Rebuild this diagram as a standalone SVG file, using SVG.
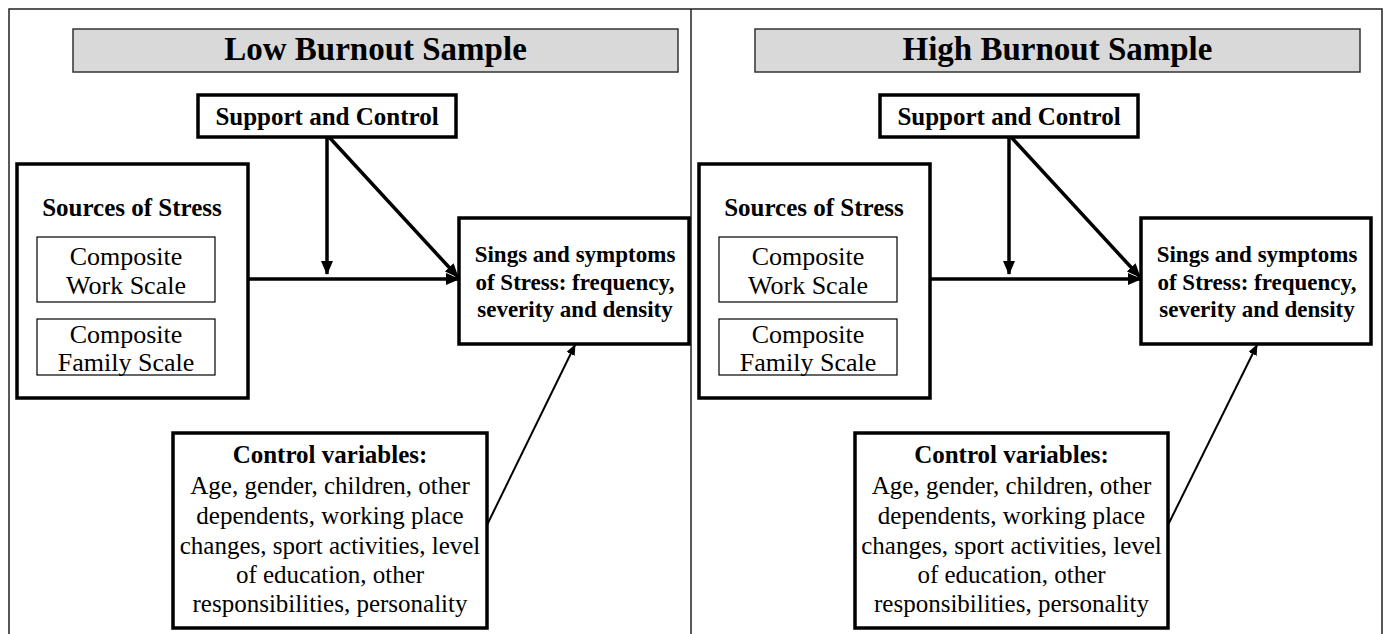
<svg xmlns="http://www.w3.org/2000/svg" width="1391" height="634" viewBox="0 0 1391 634">
<defs>
<style>
.frame{fill:none;stroke:#222;stroke-width:1.5}
.title-box{fill:#d9d9d9;stroke:#333;stroke-width:1.5}
.box{fill:#fff;stroke:#000;stroke-width:3.5}
.inner{fill:#fff;stroke:#000;stroke-width:1.2}
.conn{fill:none;stroke:#000;stroke-width:3.5}
.conn-thin{fill:none;stroke:#000;stroke-width:2}
text{font-family:"Liberation Serif","Times New Roman",serif;fill:#000;text-anchor:middle}
.t-title{font-size:33px;font-weight:bold}
.t-b{font-size:25px;font-weight:bold}
.t-s{font-size:23px;font-weight:bold}
.t-r{font-size:25px}
.t-c{font-size:26px}
</style>
<marker id="ah" markerUnits="userSpaceOnUse" markerWidth="14" markerHeight="12" refX="13" refY="6" orient="auto">
<path d="M0,0 L14,6 L0,12 z" fill="#000"/>
</marker>
<marker id="ah-thin" markerUnits="userSpaceOnUse" markerWidth="11" markerHeight="9" refX="10" refY="4.5" orient="auto">
<path d="M0,0 L11,4.5 L0,9 z" fill="#000"/>
</marker>
</defs>
<rect width="1391" height="634" fill="#fff"/>
<g id="frame">
<path class="frame" d="M9,640 L9,9 L1382,9 L1382,640 M691,9 L691,640"/>
</g>

<!-- Low burnout panel -->
<g id="low-title"><rect class="title-box" x="73" y="29" width="605" height="43"/><text class="t-title" x="375.5" y="60">Low Burnout Sample</text></g>
<g id="low-support"><rect class="box" x="198" y="95" width="258" height="42"/><text class="t-b" x="327" y="125">Support and Control</text></g>
<g id="low-sources"><rect class="box" x="17" y="164" width="231" height="234"/><text class="t-b" x="132" y="216">Sources of Stress</text></g>
<g id="low-work"><rect class="inner" x="37" y="237" width="178" height="65"/><text class="t-c" x="126" y="265">Composite</text><text class="t-c" x="126" y="294">Work Scale</text></g>
<g id="low-family"><rect class="inner" x="37" y="319" width="178" height="56"/><text class="t-c" x="126" y="343">Composite</text><text class="t-c" x="126" y="371">Family Scale</text></g>
<g id="low-signs"><rect class="box" x="459" y="218" width="230" height="126"/><text class="t-s" x="575" y="262">Sings and symptoms</text><text class="t-s" x="575" y="290">of Stress: frequency,</text><text class="t-s" x="575" y="317">severity and density</text></g>
<g id="low-control"><rect class="box" x="173" y="433" width="314" height="195"/><text class="t-b" x="330" y="463">Control variables:</text><text class="t-r" x="330" y="493.5">Age, gender, children, other</text><text class="t-r" x="330" y="523.5">dependents, working place</text><text class="t-r" x="330" y="553.5">changes, sport activities, level</text><text class="t-r" x="330" y="583">of education, other</text><text class="t-r" x="330" y="612">responsibilities, personality</text></g>

<!-- High burnout panel -->
<g id="high-title"><rect class="title-box" x="755" y="29" width="605" height="43"/><text class="t-title" x="1057.5" y="60">High Burnout Sample</text></g>
<g id="high-support"><rect class="box" x="880" y="95" width="258" height="42"/><text class="t-b" x="1009" y="125">Support and Control</text></g>
<g id="high-sources"><rect class="box" x="699" y="164" width="231" height="234"/><text class="t-b" x="814" y="216">Sources of Stress</text></g>
<g id="high-work"><rect class="inner" x="719" y="237" width="178" height="65"/><text class="t-c" x="808" y="265">Composite</text><text class="t-c" x="808" y="294">Work Scale</text></g>
<g id="high-family"><rect class="inner" x="719" y="319" width="178" height="56"/><text class="t-c" x="808" y="343">Composite</text><text class="t-c" x="808" y="371">Family Scale</text></g>
<g id="high-signs"><rect class="box" x="1141" y="218" width="230" height="126"/><text class="t-s" x="1257" y="262">Sings and symptoms</text><text class="t-s" x="1257" y="290">of Stress: frequency,</text><text class="t-s" x="1257" y="317">severity and density</text></g>
<g id="high-control"><rect class="box" x="855" y="433" width="313" height="195"/><text class="t-b" x="1011.5" y="463">Control variables:</text><text class="t-r" x="1011.5" y="493.5">Age, gender, children, other</text><text class="t-r" x="1011.5" y="523.5">dependents, working place</text><text class="t-r" x="1011.5" y="553.5">changes, sport activities, level</text><text class="t-r" x="1011.5" y="583">of education, other</text><text class="t-r" x="1011.5" y="612">responsibilities, personality</text></g>

<g id="connectors">
<path class="conn" d="M248,279 L459,279" marker-end="url(#ah)"/>
<path class="conn" d="M327,137 L327,274" marker-end="url(#ah)"/>
<path class="conn" d="M329,137 L458,277" marker-end="url(#ah)"/>
<path class="conn-thin" d="M487,525 L575,345" marker-end="url(#ah-thin)"/>
<path class="conn" d="M930,279 L1141,279" marker-end="url(#ah)"/>
<path class="conn" d="M1009,137 L1009,274" marker-end="url(#ah)"/>
<path class="conn" d="M1011,137 L1140,277" marker-end="url(#ah)"/>
<path class="conn-thin" d="M1168,525 L1257,345" marker-end="url(#ah-thin)"/>
</g>
</svg>
